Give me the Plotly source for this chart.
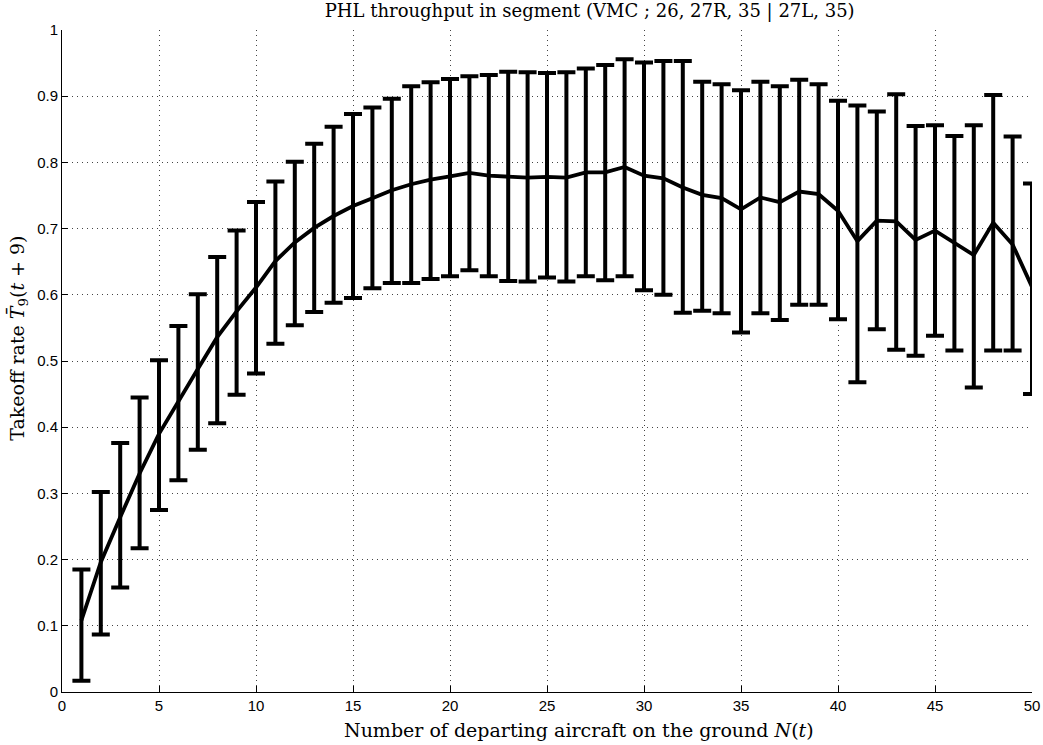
import plotly.graph_objects as go

n_values = list(range(1, 51))
mean_rate = [0.108, 0.196, 0.264, 0.330, 0.390, 0.440, 0.488, 0.536, 0.575, 0.611,
             0.651, 0.679, 0.701, 0.719, 0.734, 0.746, 0.758, 0.767, 0.774, 0.779,
             0.784, 0.780, 0.779, 0.777, 0.778, 0.777, 0.785, 0.785, 0.793, 0.780,
             0.776, 0.762, 0.751, 0.746, 0.729, 0.747, 0.740, 0.756, 0.752, 0.727,
             0.681, 0.712, 0.711, 0.683, 0.697, 0.679, 0.660, 0.709, 0.676, 0.612]
upper_rate = [0.185, 0.302, 0.376, 0.445, 0.501, 0.553, 0.601, 0.657, 0.697, 0.740,
              0.771, 0.801, 0.828, 0.854, 0.873, 0.883, 0.896, 0.915, 0.921, 0.926,
              0.930, 0.932, 0.937, 0.936, 0.935, 0.936, 0.942, 0.947, 0.956, 0.951,
              0.953, 0.953, 0.922, 0.918, 0.909, 0.922, 0.915, 0.925, 0.918, 0.893,
              0.886, 0.877, 0.903, 0.855, 0.856, 0.840, 0.856, 0.902, 0.839, 0.768]
lower_rate = [0.017, 0.087, 0.158, 0.217, 0.275, 0.320, 0.366, 0.406, 0.449, 0.481,
              0.526, 0.554, 0.574, 0.588, 0.595, 0.610, 0.618, 0.618, 0.624, 0.628,
              0.637, 0.628, 0.621, 0.620, 0.626, 0.620, 0.628, 0.622, 0.628, 0.607,
              0.600, 0.573, 0.576, 0.572, 0.543, 0.572, 0.562, 0.585, 0.585, 0.563,
              0.468, 0.548, 0.517, 0.508, 0.538, 0.516, 0.460, 0.516, 0.516, 0.450]

x_ticks = list(range(0, 51, 5))
y_ticks = [i / 10 for i in range(0, 11)]
y_tick_labels = ["0", "0.1", "0.2", "0.3", "0.4", "0.5", "0.6", "0.7", "0.8", "0.9", "1"]

title_text = "PHL throughput in segment (VMC ; 26, 27R, 35 | 27L, 35)"
x_title_text = "Number of departing aircraft on the ground <i>N</i>(<i>t</i>)"
y_title_text = "Takeoff rate <i>T\u0304</i><sub>9</sub>(<i>t</i> + 9)"

err_plus = [u - m for u, m in zip(upper_rate, mean_rate)]
err_minus = [m - l for m, l in zip(mean_rate, lower_rate)]

fig = go.Figure()
fig.add_trace(go.Scatter(
    x=n_values, y=mean_rate, mode="lines",
    line=dict(color="black", width=3.8),
    error_y=dict(type="data", symmetric=False, array=err_plus, arrayminus=err_minus,
                 color="black", thickness=4, width=9),
    showlegend=False,
))

serif = "DejaVu Serif, Liberation Serif, serif"
sans = "Liberation Sans Narrow, Liberation Sans, Arial, sans-serif"

axis_common = dict(
    showgrid=True, gridcolor="#444444", griddash="1px,4px", gridwidth=1,
    showline=True, linecolor="black", linewidth=1, mirror=False,
    ticks="inside", ticklen=6, tickcolor="black",
    zeroline=False, automargin=False,
    tickfont=dict(family=sans, size=15, color="black"),
)

fig.update_layout(
    width=1043, height=745,
    margin=dict(l=62, r=11, t=30, b=53),
    paper_bgcolor="white", plot_bgcolor="white",
    title=dict(text=title_text, xref="paper", x=0.544, xanchor="center",
               yref="container", y=0.985, yanchor="middle",
               font=dict(family=serif, size=18, color="black")),
    xaxis=dict(range=[0, 50], tickvals=x_ticks, **axis_common),
    yaxis=dict(range=[0, 1], tickvals=y_ticks, ticktext=y_tick_labels, **axis_common),
    annotations=[
        dict(text=x_title_text, xref="paper", yref="paper", x=0.5335, y=-0.0574,
             xanchor="center", yanchor="middle", showarrow=False,
             font=dict(family=serif, size=19, color="black")),
        dict(text=y_title_text, xref="paper", yref="paper", x=-0.0454, y=0.535,
             xanchor="center", yanchor="middle", showarrow=False, textangle=-90,
             font=dict(family=serif, size=19, color="black")),
    ],
)

fig.write_html("out.html", config={"displayModeBar": False},
               post_script="document.body.style.margin='0px';")
